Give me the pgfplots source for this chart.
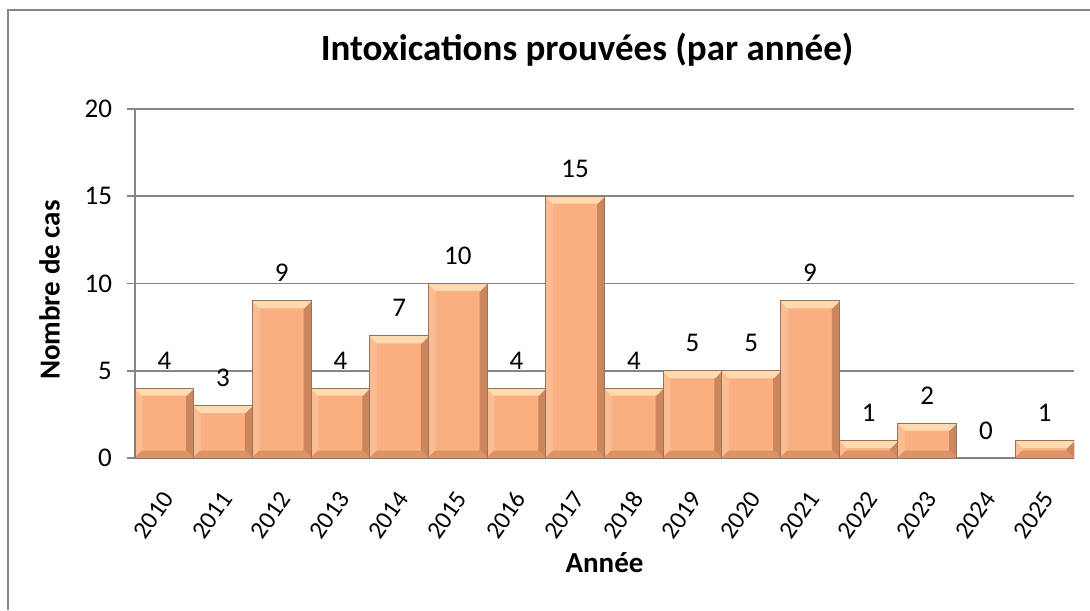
\documentclass[border=0pt]{standalone}
\usepackage{fontspec}
\setmainfont{Carlito}
\usepackage{pgfplots}
\pgfplotsset{compat=1.18}
\definecolor{barbody}{RGB}{250,175,128}
\definecolor{bevtop}{RGB}{254,218,176}
\definecolor{bevright}{RGB}{204,134,94}
\definecolor{bevbottom}{RGB}{218,148,104}
\definecolor{bevleft}{RGB}{252,188,146}
\definecolor{barborder}{RGB}{150,115,95}
\definecolor{axgray}{RGB}{134,134,134}
\pgfplotstableread{
x y
0 4
1 3
2 9
3 4
4 7
5 10
6 4
7 15
8 4
9 5
10 5
11 9
12 1
13 2
14 0
15 1
}\datatable
\tikzset{
  barbevel/.style={path picture={
    \fill[path picture={}, bevleft] (path picture bounding box.north west) -- ([xshift=3.5pt,yshift=-3.5pt]path picture bounding box.north west) -- ([xshift=3.5pt,yshift=3.5pt]path picture bounding box.south west) -- (path picture bounding box.south west) -- cycle;
    \fill[path picture={}, bevright] (path picture bounding box.north east) -- ([xshift=-3.5pt,yshift=-3.5pt]path picture bounding box.north east) -- ([xshift=-3.5pt,yshift=3.5pt]path picture bounding box.south east) -- (path picture bounding box.south east) -- cycle;
    \fill[path picture={}, bevbottom] (path picture bounding box.south west) -- ([xshift=3.5pt,yshift=3.5pt]path picture bounding box.south west) -- ([xshift=-3.5pt,yshift=3.5pt]path picture bounding box.south east) -- (path picture bounding box.south east) -- cycle;
    \fill[path picture={}, bevtop] (path picture bounding box.north west) -- (path picture bounding box.north east) -- ([xshift=-3.5pt,yshift=-3.5pt]path picture bounding box.north east) -- ([xshift=3.5pt,yshift=-3.5pt]path picture bounding box.north west) -- cycle;
  }}
}
\pgfplotsset{peachbar/.style={fill=barbody, draw=barborder, line width=0.5pt, barbevel}}
\begin{document}
\begin{tikzpicture}[x=1pt,y=1pt]
\useasboundingbox (0,0) rectangle (545,305);
\draw[line width=1pt, axgray] (3.75,0) -- (3.75,300) -- (545,300);
\begin{axis}[
  at={(67.5pt,76pt)}, anchor=south west,
  scale only axis, width=469.5pt, height=174.5pt,
  ybar, bar width=1, bar shift=0pt,
  xmin=-0.5, xmax=15.5, ymin=0, ymax=20,
  enlargelimits=false,
  xtick={0,...,15},
  xticklabels={2010,2011,2012,2013,2014,2015,2016,2017,2018,2019,2020,2021,2022,2023,2024,2025},
  ytick={0,5,10,15,20},
  axis x line*=bottom, axis y line*=left,
  axis line style={axgray, line width=0.9pt, -},
  x tick style={draw=none},
  y tick style={axgray, line width=0.9pt},
  tick align=outside, major tick length=4pt,
  ymajorgrids, grid style={axgray, line width=0.8pt},
  /pgf/number format/assume math mode=true,
  yticklabel style={font=\fontsize{13.5}{16}\selectfont, text=black, xshift=-4pt},
  xticklabel style={font=\fontsize{12.5}{15}\selectfont, text=black, inner sep=0pt, xshift=2pt, yshift=-14pt, rotate=55, anchor=east},
  title={Intoxications prouvées (par année)},
  title style={font=\bfseries\fontsize{18.5}{22}\selectfont, at={(axis description cs:0.4814,1.1032)}, anchor=base},
  xlabel={Année},
  xlabel style={font=\bfseries\fontsize{14.5}{17}\selectfont, at={(axis description cs:0.5,-0.3295)}, anchor=base},
  ylabel={Nombre de cas},
  ylabel style={font=\bfseries\fontsize{14.5}{17}\selectfont, at={(axis description cs:-0.0804,0.481)}, anchor=base, rotate=0},
]
% one bar per plot so that each bar gets its own bevel
\addplot[peachbar] coordinates {(0,4)};
\addplot[peachbar] coordinates {(1,3)};
\addplot[peachbar] coordinates {(2,9)};
\addplot[peachbar] coordinates {(3,4)};
\addplot[peachbar] coordinates {(4,7)};
\addplot[peachbar] coordinates {(5,10)};
\addplot[peachbar] coordinates {(6,4)};
\addplot[peachbar] coordinates {(7,15)};
\addplot[peachbar] coordinates {(8,4)};
\addplot[peachbar] coordinates {(9,5)};
\addplot[peachbar] coordinates {(10,5)};
\addplot[peachbar] coordinates {(11,9)};
\addplot[peachbar] coordinates {(12,1)};
\addplot[peachbar] coordinates {(13,2)};
\addplot[fill=none, draw=barborder, line width=0.5pt] coordinates {(14,0)};
\addplot[peachbar] coordinates {(15,1)};
\addplot[draw=none, fill=none,
  nodes near coords,
  every node near coord/.append style={font=\fontsize{13.5}{16}\selectfont, text=black, anchor=base, yshift=9.5pt}]
  table[x=x,y=y] {\datatable};
\end{axis}
\end{tikzpicture}
\end{document}
